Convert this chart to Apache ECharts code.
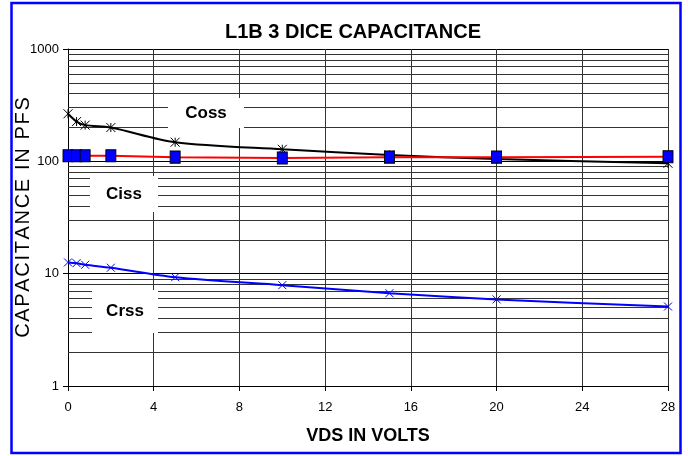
<!DOCTYPE html>
<html>
<head>
<meta charset="utf-8">
<script src="https://cdn.jsdelivr.net/npm/echarts@6/dist/echarts.min.js"></script>
<style>
  html, body { margin: 0; padding: 0; background: #fff; }
  #chart { width: 688px; height: 456px; }
</style>
</head>
<body>
<div id="chart"></div>
<script>
// VDS in volts
var vds = [0, 0.4, 0.8, 2, 5, 10, 15, 20, 28];
// capacitance in pF
var coss = [265, 226, 210, 200, 148, 128, 114, 105, 96];
var ciss = [112, 112, 112, 112, 109, 107, 109, 109, 110];
var crss = [12.6, 12.4, 12.0, 11.3, 9.3, 7.9, 6.7, 5.9, 5.1];
// minor log grid lines
var minorGrid = [2, 3, 4, 5, 6, 7, 8, 9, 20, 30, 40, 50, 60, 70, 80, 90, 200, 300, 400, 500, 600, 700, 800, 900];

var sans = '"Liberation Sans", Arial, sans-serif';

function pairs(ys) {
    return vds.map(function(x, i) { return [x, ys[i]]; });
}

// spread the letters of the y axis title a little
function spaced(s) {
    return s.split('').join('\u200A');
}

function boxLabel(x, y, w, h, txt) {
    return {
        type: 'group',
        z: 50,
        children: [{
            type: 'rect',
            z: 50,
            shape: { x: x, y: y, width: w, height: h },
            style: { fill: '#fff' }
        }, {
            type: 'text',
            z: 51,
            x: x + w / 2,
            y: y + h / 2,
            style: {
                text: txt,
                font: 'bold 17px ' + sans,
                fill: '#000',
                align: 'center',
                verticalAlign: 'middle'
            }
        }]
    };
}

var myChart = echarts.init(document.getElementById('chart'));

var option = {
    animation: false,
    backgroundColor: '#fff',
    title: {
        text: 'L1B 3 DICE CAPACITANCE',
        left: 348,
        top: 17,
        textAlign: 'center',
        textStyle: { fontFamily: sans, fontWeight: 'bold', fontSize: 20, color: '#000' }
    },
    grid: { left: 68, top: 49, right: 20, bottom: 70, outerBoundsMode: 'none' },
    xAxis: {
        type: 'value',
        min: 0,
        max: 28,
        interval: 4,
        name: 'VDS IN VOLTS',
        nameLocation: 'middle',
        nameGap: 41,
        nameMoveOverlap: false,
        nameTextStyle: { fontFamily: sans, fontWeight: 'bold', fontSize: 18, color: '#000' },
        axisLine: { lineStyle: { color: '#000', width: 1 } },
        axisTick: { show: true, length: 5, lineStyle: { color: '#000' } },
        axisLabel: { margin: 15, fontFamily: sans, fontSize: 13, color: '#000' },
        splitLine: { show: true, lineStyle: { color: '#333', width: 1 } }
    },
    yAxis: {
        type: 'log',
        logBase: 10,
        min: 1,
        max: 1000,
        name: spaced('CAPACITANCE IN PFS'),
        nameLocation: 'middle',
        nameRotate: 90,
        nameGap: 35,
        nameMoveOverlap: false,
        nameTextStyle: { fontFamily: sans, fontSize: 20, color: '#000' },
        axisLine: { show: true, lineStyle: { color: '#000', width: 1 } },
        axisTick: { show: true, length: 5, lineStyle: { color: '#000' } },
        axisLabel: {
            margin: 9, fontFamily: sans, fontSize: 13, color: '#000',
            formatter: function(v) { return String(v); }
        },
        splitLine: { show: true, lineStyle: { color: '#000', width: 1 } }
    },
    graphic: [
        boxLabel(168, 98, 76, 30, 'Coss'),
        boxLabel(90, 176, 68, 36, 'Ciss'),
        boxLabel(92, 290, 66, 43, 'Crss'),
        {
            type: 'rect',
            z: 60,
            shape: { x: 11.5, y: 3, width: 669, height: 450 },
            style: { fill: 'none', stroke: '#0000ff', lineWidth: 2.5 }
        }
    ],
    series: [{
        name: 'grid',
        type: 'line',
        data: [],
        z: 1,
        silent: true,
        markLine: {
            silent: true,
            symbol: 'none',
            label: { show: false },
            lineStyle: { type: 'solid', color: '#333', width: 1 },
            data: minorGrid.map(function(v) { return { yAxis: v }; })
        }
    }, {
        name: 'Coss',
        type: 'line',
        z: 100,
        data: pairs(coss),
        smooth: 0.3,
        symbol: 'path://M0,0L10,10M10,0L0,10M5,0L5,10',
        symbolSize: 9,
        lineStyle: { color: '#000', width: 2 },
        itemStyle: { color: 'rgba(0,0,0,0)', borderColor: '#000', borderWidth: 1 }
    }, {
        name: 'Ciss',
        type: 'line',
        z: 100,
        data: pairs(ciss),
        symbol: 'rect',
        symbolSize: [10, 12],
        lineStyle: { color: '#ff0000', width: 2 },
        itemStyle: { color: '#0000ff', borderColor: '#000', borderWidth: 1 }
    }, {
        name: 'Crss',
        type: 'line',
        z: 100,
        data: pairs(crss),
        smooth: 0.3,
        symbol: 'path://M0,0L10,10M10,0L0,10',
        symbolSize: 8,
        lineStyle: { color: '#0000ff', width: 2 },
        itemStyle: { color: 'rgba(0,0,0,0)', borderColor: '#0000ff', borderWidth: 1 }
    }]
};

myChart.setOption(option);
</script>
</body>
</html>
